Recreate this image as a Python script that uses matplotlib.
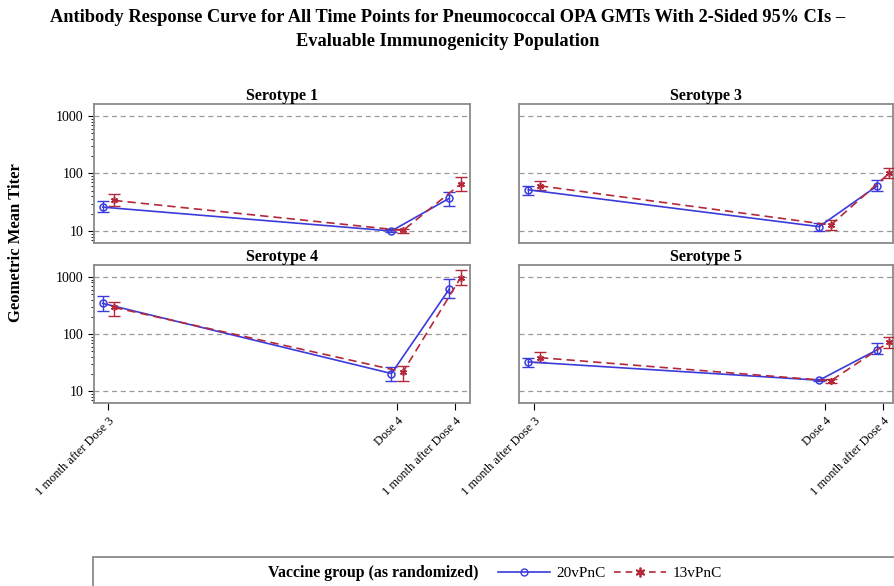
import numpy as np
import matplotlib
matplotlib.use("Agg")
import matplotlib.pyplot as plt
from matplotlib.lines import Line2D
from matplotlib.patches import Rectangle
from matplotlib.ticker import LogLocator, NullFormatter, FixedLocator

plt.rcParams["font.family"] = ["Liberation Serif", "DejaVu Serif"]

# time points (months after "1 month after Dose 3")
timepoints = ["1 month after Dose 3", "Dose 4", "1 month after Dose 4"]
months = [0, 5, 6]
groups = ["20vPnC", "13vPnC"]
serotypes = ["Serotype 1", "Serotype 3", "Serotype 4", "Serotype 5"]

# GMT, lower CI, upper CI per serotype per group
gmt_20 = {
    "Serotype 1": [26, 10.0, 37],
    "Serotype 3": [52, 11.9, 61],
    "Serotype 4": [344, 20.3, 611],
    "Serotype 5": [32.4, 15.5, 53],
}
lo_20 = {
    "Serotype 1": [21, 9.5, 27],
    "Serotype 3": [43, 9.8, 50],
    "Serotype 4": [257, 15, 425],
    "Serotype 5": [26.5, 14.8, 44],
}
hi_20 = {
    "Serotype 1": [33, 10.8, 48],
    "Serotype 3": [60, 13.6, 77],
    "Serotype 4": [454, 26, 930],
    "Serotype 5": [38.5, 16.3, 69],
}
gmt_13 = {
    "Serotype 1": [34, 10.2, 66],
    "Serotype 3": [61, 12.7, 100],
    "Serotype 4": [292, 21.7, 975],
    "Serotype 5": [38.5, 15.1, 72],
}
lo_13 = {
    "Serotype 1": [27, 9.4, 50],
    "Serotype 3": [52, 10.4, 85],
    "Serotype 4": [209, 15, 725],
    "Serotype 5": [32, 14.0, 57],
}
hi_13 = {
    "Serotype 1": [43.5, 11.0, 86],
    "Serotype 3": [75, 15.5, 123],
    "Serotype 4": [371, 28, 1320],
    "Serotype 5": [48, 16.5, 88],
}

blue = "#3b3bdc"
red = "#b5283a"
asterisk = (6, 2, 0)

W, H = 895, 586
fig = plt.figure(figsize=(W / 100, H / 100), dpi=100)


def px_axes(x0, y0, x1, y1):
    return fig.add_axes([x0 / W, 1 - y1 / H, (x1 - x0) / W, (y1 - y0) / H])


boxes = {
    "Serotype 1": (94, 104, 470, 243),
    "Serotype 3": (519, 104, 893, 243),
    "Serotype 4": (94, 265, 470, 403),
    "Serotype 5": (519, 265, 893, 403),
}
xlims = {
    "Serotype 1": (-0.25, 6.26),
    "Serotype 3": (-0.26, 6.17),
    "Serotype 4": (-0.25, 6.26),
    "Serotype 5": (-0.26, 6.17),
}

off = 0.1
for i, s in enumerate(serotypes):
    ax = px_axes(*boxes[s])
    x = np.array(months, dtype=float)
    for xs, g, lo, hi, col, ls, mk in [
        (x - off, gmt_20[s], lo_20[s], hi_20[s], blue, "-", "o"),
        (x + off, gmt_13[s], lo_13[s], hi_13[s], red, (0, (5, 3)), asterisk),
    ]:
        g = np.array(g)
        err = np.vstack([g - np.array(lo), np.array(hi) - g])
        ax.errorbar(xs, g, yerr=err, fmt="none", ecolor=col, elinewidth=1.0,
                    capsize=4, capthick=1.0, zorder=3)
        ax.plot(xs, g, color=col, linestyle=ls, linewidth=1.2, marker=mk,
                markersize=5, markerfacecolor="none" if mk == "o" else col,
                markeredgewidth=1.1, zorder=4)
    ax.set_yscale("log")
    ax.set_ylim(6.18, 1618)
    ax.set_xlim(*xlims[s])
    for v in [10, 100, 1000]:
        ax.axhline(v, color="#9a9a9a", linestyle=(0, (4, 3)), linewidth=0.9, zorder=1)
    for sp in ax.spines.values():
        sp.set_color("#8a8a8a")
        sp.set_linewidth(1.3)
    ax.set_title(s, fontsize=11.5, fontweight="bold", pad=2)

    left = i % 2 == 0
    bottom = i >= 2
    if left:
        ax.yaxis.set_major_locator(FixedLocator([10, 100, 1000]))
        ax.set_yticklabels(["10", "100", "1000"], fontsize=10)
        ax.yaxis.set_minor_locator(LogLocator(base=10, subs=np.arange(2, 10)))
        ax.yaxis.set_minor_formatter(NullFormatter())
        ax.tick_params(axis="y", which="major", length=4, width=0.8)
        ax.tick_params(axis="y", which="minor", length=2, width=0.6)
    else:
        ax.set_yticks([])
        ax.yaxis.set_minor_locator(plt.NullLocator())
    if bottom:
        ax.set_xticks(months)
        ax.set_xticklabels(timepoints, rotation=45, ha="right",
                           rotation_mode="anchor", fontsize=9)
        ax.tick_params(axis="x", length=5, width=0.8)
    else:
        ax.set_xticks([])

fig.text(448 / W, 1 - 18 / H,
         "Antibody Response Curve for All Time Points for Pneumococcal OPA GMTs With 2-Sided 95% CIs \u2013",
         ha="center", va="center", fontsize=13.2, fontweight="bold")
fig.text(448 / W, 1 - 42 / H, "Evaluable Immunogenicity Population",
         ha="center", va="center", fontsize=13.2, fontweight="bold")
fig.text(16 / W, 1 - 243 / H, "Geometric Mean Titer", rotation=90,
         ha="center", va="center", fontsize=12, fontweight="bold")

# legend box
fig.patches.append(Rectangle((93 / W, -0.01), (W - 93) / W + 0.02, (H - 557) / H + 0.01,
                             transform=fig.transFigure, fill=False,
                             edgecolor="#8a8a8a", linewidth=1.3))
fig.text(268 / W, 1 - 573 / H, "Vaccine group (as randomized)",
         ha="left", va="center", fontsize=11.4, fontweight="bold")
handles = [
    Line2D([], [], color=blue, linestyle="-", marker="o", markersize=5,
           markerfacecolor="none", linewidth=1.2),
    Line2D([], [], color=red, linestyle=(0, (4, 3)), marker=asterisk, markersize=7,
           markeredgewidth=1.3, linewidth=1.2),
]
fig.legend(handles, groups, loc="center left", ncol=2, frameon=False,
           bbox_to_anchor=(498 / W, 1 - 573 / H), fontsize=11,
           handlelength=3.4, columnspacing=0.5, handletextpad=0.45,
           borderpad=0, borderaxespad=0)

fig.savefig("out.png", dpi=100)
